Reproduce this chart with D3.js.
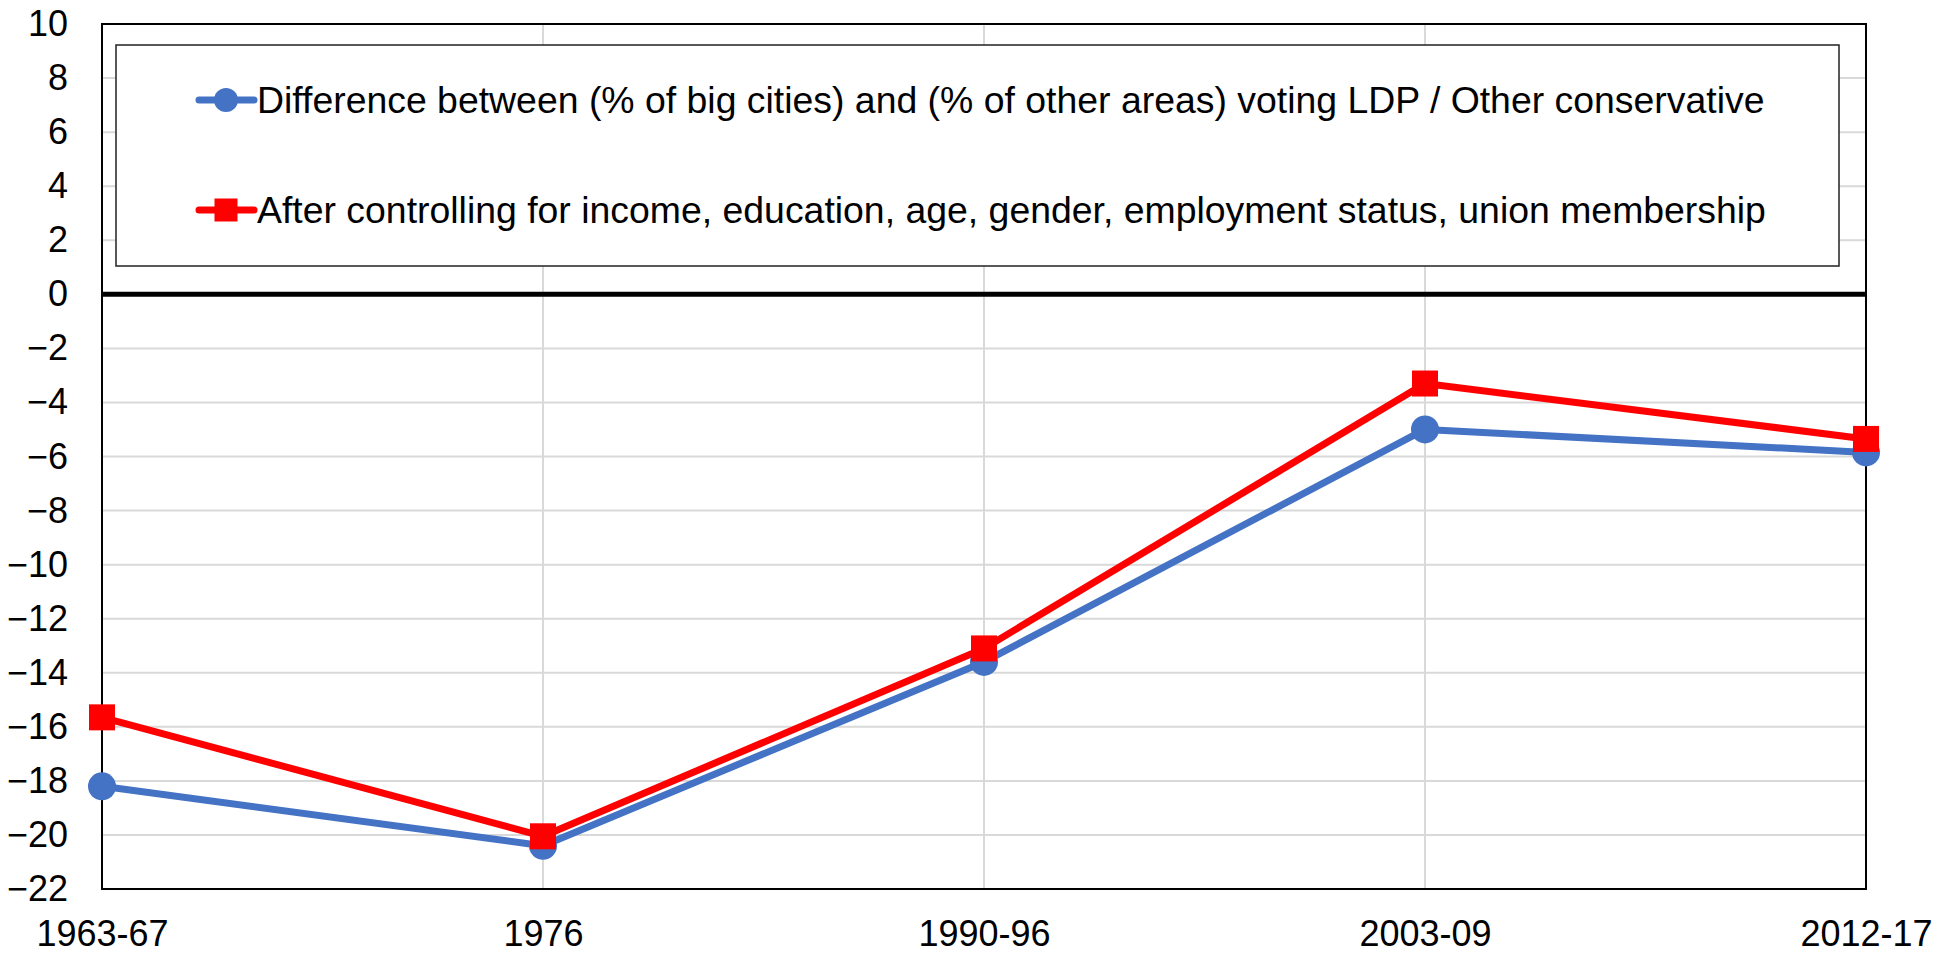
<!DOCTYPE html>
<html>
<head>
<meta charset="utf-8">
<script src="https://cdn.jsdelivr.net/npm/d3@7"></script>
<style>
  body { margin: 0; background: #fff; overflow: hidden; }
  svg { display: block; }
  text { font-family: "Liberation Sans", Arial, sans-serif; }
</style>
</head>
<body>
<svg id="chart" width="1953" height="961"></svg>
<script>
const periods = ["1963-67", "1976", "1990-96", "2003-09", "2012-17"];
const diffValues = [-18.2, -20.4, -13.6, -5.0, -5.85];
const controlledValues = [-15.65, -20.05, -13.1, -3.3, -5.35];
const yTicks = d3.range(-22, 11, 2);
const seriesNames = [
  "Difference between (% of big cities) and (% of other areas) voting LDP / Other conservative",
  "After controlling for income, education, age, gender, employment status, union membership"
];

const svg = d3.select("#chart"),
  width = +svg.attr("width"),
  height = +svg.attr("height");

const margin = { top: 24, right: 87, bottom: 72, left: 102 },
  innerWidth = width - margin.left - margin.right,
  innerHeight = height - margin.top - margin.bottom;

const g = svg.append("g")
  .attr("transform", `translate(${margin.left},${margin.top})`);

const x = d3.scalePoint()
  .domain(periods)
  .range([0, innerWidth]);

const y = d3.scaleLinear()
  .domain([-22, 10])
  .range([innerHeight, 0]);

// gridlines
g.append("g")
  .selectAll("line")
  .data(yTicks)
  .join("line")
  .attr("x1", 0).attr("x2", innerWidth)
  .attr("y1", d => y(d)).attr("y2", d => y(d))
  .attr("stroke", "#d9d9d9").attr("stroke-width", 2);

g.append("g")
  .selectAll("line")
  .data(periods)
  .join("line")
  .attr("x1", d => x(d)).attr("x2", d => x(d))
  .attr("y1", 0).attr("y2", innerHeight)
  .attr("stroke", "#d9d9d9").attr("stroke-width", 2);

// plot border
g.append("rect")
  .attr("width", innerWidth).attr("height", innerHeight)
  .attr("fill", "none").attr("stroke", "#000").attr("stroke-width", 2);

// zero line
g.append("line")
  .attr("x1", 0).attr("x2", innerWidth)
  .attr("y1", y(0)).attr("y2", y(0))
  .attr("stroke", "#000").attr("stroke-width", 5);

// y axis labels
g.append("g")
  .call(d3.axisLeft(y).tickValues(yTicks).tickSize(0).tickPadding(34))
  .call(a => a.select(".domain").remove())
  .selectAll("text")
  .attr("font-size", 36)
  .attr("fill", "#000");

// x axis labels
g.append("g")
  .attr("transform", `translate(0,${innerHeight})`)
  .call(d3.axisBottom(x).tickSize(0).tickPadding(31))
  .call(a => a.select(".domain").remove())
  .selectAll("text")
  .attr("font-size", 36)
  .attr("fill", "#000");

// legend
const legend = g.append("g").attr("transform", `translate(14,21)`);
legend.append("rect")
  .attr("width", 1723).attr("height", 221)
  .attr("fill", "#fff").attr("stroke", "#222").attr("stroke-width", 1.5);

const series = [
  { name: seriesNames[0], values: diffValues, color: "#4472C4", shape: "circle" },
  { name: seriesNames[1], values: controlledValues, color: "#FF0000", shape: "square" }
];

series.forEach((s, i) => {
  const ly = 55 + i * 110;
  const row = legend.append("g").attr("transform", `translate(0,${ly})`);
  row.append("line")
    .attr("x1", 83).attr("x2", 138).attr("y1", 0).attr("y2", 0)
    .attr("stroke", s.color).attr("stroke-width", 7).attr("stroke-linecap", "round");
  if (s.shape === "circle") {
    row.append("circle").attr("cx", 110).attr("cy", 0).attr("r", 12).attr("fill", s.color);
  } else {
    row.append("rect").attr("x", 98.5).attr("y", -11.5).attr("width", 23).attr("height", 23).attr("fill", s.color);
  }
  row.append("text")
    .attr("x", 141).attr("y", 0).attr("dy", "0.35em")
    .attr("font-size", 37.4).attr("fill", "#000")
    .text(s.name);
});

// lines and markers
const line = d3.line()
  .x((d, i) => x(periods[i]))
  .y(d => y(d));

series.forEach(s => {
  g.append("path")
    .datum(s.values)
    .attr("fill", "none")
    .attr("stroke", s.color)
    .attr("stroke-width", 7)
    .attr("stroke-linejoin", "round")
    .attr("d", line);
});

g.append("g")
  .selectAll("circle")
  .data(diffValues)
  .join("circle")
  .attr("cx", (d, i) => x(periods[i]))
  .attr("cy", d => y(d))
  .attr("r", 14)
  .attr("fill", "#4472C4");

g.append("g")
  .selectAll("rect")
  .data(controlledValues)
  .join("rect")
  .attr("x", (d, i) => x(periods[i]) - 13)
  .attr("y", d => y(d) - 13)
  .attr("width", 26).attr("height", 26)
  .attr("fill", "#FF0000");
</script>
</body>
</html>
